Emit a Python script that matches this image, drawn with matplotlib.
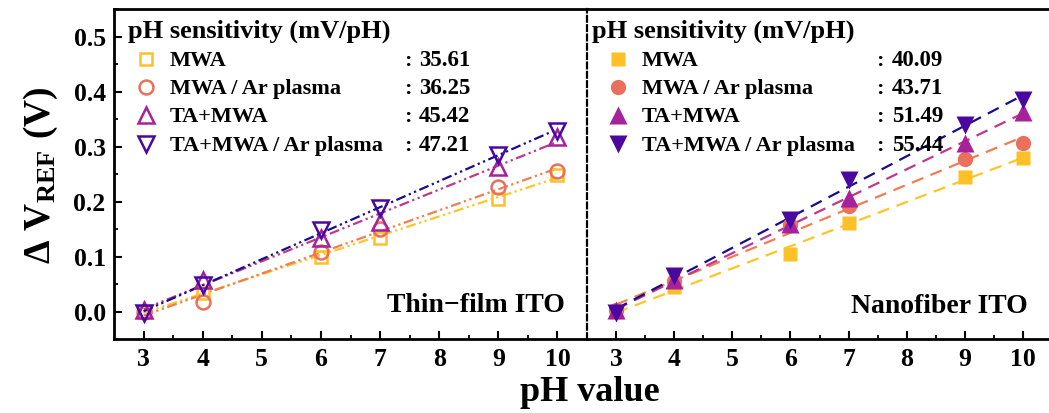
import numpy as np
import matplotlib
matplotlib.use("Agg")
import matplotlib.pyplot as plt

plt.rcParams['font.family'] = ['Liberation Serif', 'DejaVu Serif']
plt.rcParams['font.weight'] = 'bold'
plt.rcParams['mathtext.fontset'] = 'custom'
plt.rcParams['mathtext.rm'] = 'Liberation Serif:bold'
plt.rcParams['mathtext.bf'] = 'Liberation Serif:bold'
plt.rcParams['mathtext.it'] = 'Liberation Serif:bold'

# ---------------- data ----------------
ph = [3, 4, 6, 7, 9, 10]
series_names = ['MWA', 'MWA / Ar plasma', 'TA+MWA', 'TA+MWA / Ar plasma']

thin_mwa = [0.000, 0.034, 0.100, 0.134, 0.205, 0.249]
thin_mwa_ar = [0.000, 0.018, 0.109, 0.150, 0.227, 0.255]
thin_ta = [0.003, 0.058, 0.134, 0.163, 0.263, 0.318]
thin_ta_ar = [-0.003, 0.048, 0.149, 0.188, 0.285, 0.329]

nano_mwa = [0.000, 0.044, 0.104, 0.161, 0.244, 0.280]
nano_mwa_ar = [0.003, 0.055, 0.157, 0.192, 0.277, 0.306]
nano_ta = [0.002, 0.058, 0.159, 0.206, 0.306, 0.363]
nano_ta_ar = [-0.003, 0.065, 0.167, 0.240, 0.340, 0.385]

thin_sens = ['35.61', '36.25', '45.42', '47.21']
nano_sens = ['40.09', '43.71', '51.49', '55.44']

panel_titles = ['Thin\u2212film ITO', 'Nanofiber ITO']
legend_title = 'pH sensitivity (mV/pH)'

# ---------------- styles ----------------
marker_colors = ['#FEC027', '#E8705D', '#A5229A', '#4B08A0']
line_colors = ['#FDC527', '#F07E50', '#C0388A', '#1A0C8C']
markers = ['s', 'o', '^', 'v']
msize_open = [9, 10, 11, 11]
msize_fill = [10.5, 11, 13, 13]

W, H = 1049, 414
fig = plt.figure(figsize=(W / 100, H / 100), dpi=100)

x_left, x_div, x_right = 114, 587, 1052
y_top, y_bot = 10, 340
axL = fig.add_axes([x_left / W, 1 - y_bot / H, (x_div - x_left) / W, (y_bot - y_top) / H])
axR = fig.add_axes([x_div / W, 1 - y_bot / H, (x_right - x_div) / W, (y_bot - y_top) / H])

thin = [thin_mwa, thin_mwa_ar, thin_ta, thin_ta_ar]
nano = [nano_mwa, nano_mwa_ar, nano_ta, nano_ta_ar]

dashdotdot = (0, (4.5, 1.6, 1, 1.6, 1, 1.6))
dashed = (0, (5.5, 3.5))

phx = np.array(ph, dtype=float)
for ax, data, filled, ls in [(axL, thin, False, dashdotdot), (axR, nano, True, dashed)]:
    for i, y in enumerate(data):
        y = np.array(y)
        k, b = np.polyfit(phx, y, 1)
        xf = np.array([phx.min(), phx.max()])
        ax.plot(xf, k * xf + b, linestyle=ls, color=line_colors[i], lw=1.6, zorder=2)
    for i, y in enumerate(data):
        if filled:
            ax.plot(ph, y, linestyle='none', marker=markers[i], ms=msize_fill[i],
                    mfc=marker_colors[i], mec='none', zorder=3)
        else:
            ax.plot(ph, y, linestyle='none', marker=markers[i], ms=msize_open[i],
                    mfc='none', mec=marker_colors[i], mew=1.8, zorder=3)

for ax in (axL, axR):
    ax.set_xlim(2.5, 10.5)
    ax.set_ylim(-0.05, 0.55)
    ax.set_xticks(range(3, 11))
    ax.set_xticks(np.arange(3.5, 10.5, 1.0), minor=True)
    ax.tick_params(axis='x', which='major', direction='in', length=6, width=1.5,
                   labelsize=18.5, pad=6, top=False)
    ax.tick_params(axis='x', which='minor', direction='in', length=3, width=1.3, top=False)
    for s in ax.spines.values():
        s.set_linewidth(2.0)
    for lab in ax.get_xticklabels():
        lab.set_fontweight('bold')

axL.set_yticks(np.arange(0, 0.51, 0.1))
axL.set_yticks(np.arange(-0.05, 0.55, 0.1), minor=True)
axL.set_yticklabels(['0.0', '0.1', '0.2', '0.3', '0.4', '0.5'])
axL.tick_params(axis='y', which='major', direction='in', length=6, width=1.5,
                labelsize=18.5, pad=6, right=False)
axL.tick_params(axis='y', which='minor', direction='in', length=3, width=1.3, right=False)
for lab in axL.get_yticklabels():
    lab.set_fontweight('bold')
axL.spines['right'].set_visible(False)

axR.tick_params(axis='y', which='both', left=False, right=False, labelleft=False)
axR.spines['left'].set_linestyle((0, (2.6, 1.6)))
axR.spines['left'].set_linewidth(1.6)
axR.spines['right'].set_visible(False)

axL.set_ylabel(r'$\Delta\ \mathrm{V}_{\mathrm{REF}}\ \mathrm{(V)}$', fontsize=27, labelpad=10)
fig.text(590 / W, 1 - 401 / H, 'pH value', fontsize=26, fontweight='bold', ha='center', va='baseline')

# ------------- legends (manual) -------------
def px2ax(ax, xp, yp, x0, x1):
    return (xp - x0) / (x1 - x0), (y_bot - yp) / (y_bot - y_top)

rows_y = [61, 89, 117, 146]
for ax, x0, x1, sens, filled, title_x, mk_x, txt_x, col_x, val_x in [
        (axL, x_left, x_div, thin_sens, False, 128, 145.5, 170, 404, 419),
        (axR, x_div, x_right, nano_sens, True, 592, 617.5, 642, 876, 892)]:
    tx, ty = px2ax(ax, title_x, 31, x0, x1)
    ax.text(tx, ty, legend_title, transform=ax.transAxes, fontsize=19, fontweight='bold',
            ha='left', va='center')
    for i, yp in enumerate(rows_y):
        mx, my = px2ax(ax, mk_x, yp - 1, x0, x1)
        if filled:
            ax.plot([mx], [my], transform=ax.transAxes, marker=markers[i], ms=msize_fill[i],
                    mfc=marker_colors[i], mec='none', linestyle='none', clip_on=False)
        else:
            ax.plot([mx], [my], transform=ax.transAxes, marker=markers[i], ms=msize_open[i],
                    mfc='none', mec=marker_colors[i], mew=1.8, linestyle='none', clip_on=False)
        lx, ly = px2ax(ax, txt_x, yp, x0, x1)
        ax.text(lx, ly, series_names[i], transform=ax.transAxes, fontsize=16,
                fontweight='bold', ha='left', va='center')
        cx, _ = px2ax(ax, col_x, yp, x0, x1)
        ax.text(cx, ly, ':', transform=ax.transAxes, fontsize=16,
                fontweight='bold', ha='left', va='center')
        vx, _ = px2ax(ax, val_x, yp, x0, x1)
        ax.text(vx, ly, sens[i], transform=ax.transAxes, fontsize=16.5,
                fontweight='bold', ha='left', va='center')

px, py = px2ax(axL, 565, 312, x_left, x_div)
axL.text(px, py, panel_titles[0], transform=axL.transAxes, fontsize=20, fontweight='bold',
         ha='right', va='baseline')
px, py = px2ax(axR, 1028, 313, x_div, x_right)
axR.text(px, py, panel_titles[1], transform=axR.transAxes, fontsize=20, fontweight='bold',
         ha='right', va='baseline')

fig.savefig('out.png', dpi=100)
